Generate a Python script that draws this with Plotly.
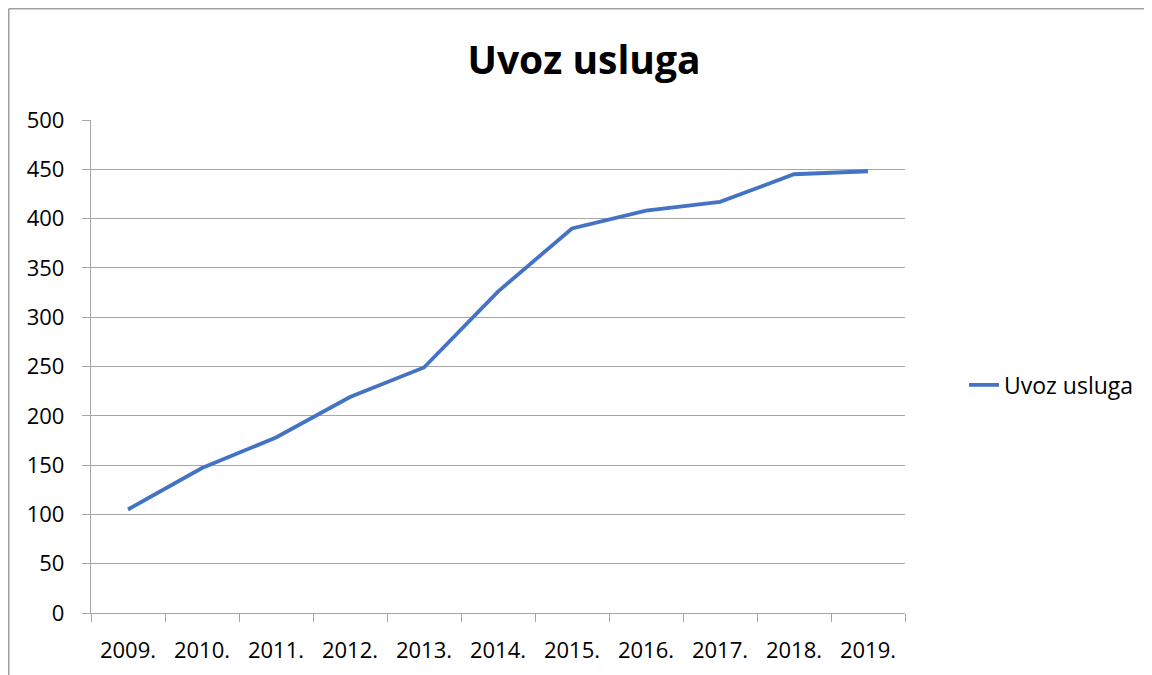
import plotly.graph_objects as go

years = ["2009.", "2010.", "2011.", "2012.", "2013.", "2014.", "2015.", "2016.", "2017.", "2018.", "2019."]
uvoz_usluga = [105, 147, 178, 219, 249, 326, 390, 408, 417, 445, 448]
series_name = "Uvoz usluga"
chart_title = "Uvoz usluga"

FONT = "Open Sans"
GRID = "#A6A6A6"

fig = go.Figure()
fig.add_trace(go.Scatter(
    x=years, y=uvoz_usluga, mode="lines", name=series_name,
    line=dict(color="#4472C4", width=3.8),
))

# page body has an 8px margin, so the figure is 8px smaller and shifted
W, H = 1144, 667
L, R, T, B = 83, 247, 112, 62
pw, ph = W - L - R, H - T - B

def px(x):
    return (x - L) / pw

def py(y):
    return (H - B - y) / ph

fig.update_layout(
    width=W, height=H,
    margin=dict(l=L, r=R, t=T, b=B),
    paper_bgcolor="white", plot_bgcolor="white",
    font=dict(family=FONT, size=21, color="#000000"),
    title=dict(text="<b>" + chart_title + "</b>", x=576 / W, xanchor="center",
               y=1 - 52 / H, yanchor="middle", yref="container",
               font=dict(family=FONT, size=39, color="#000000")),
    showlegend=True,
    legend=dict(x=px(956), xanchor="left", y=py(377), yanchor="middle",
                font=dict(family=FONT, size=23, color="#000000"),
                bgcolor="rgba(0,0,0,0)"),
    xaxis=dict(type="category", range=[-0.5, len(years) - 0.5],
               showgrid=False, showline=True, linecolor=GRID, linewidth=1.3,
               ticks="outside", tickson="boundaries", ticklen=8, tickcolor=GRID,
               tickwidth=1.3, ticklabelstandoff=17,
               tickfont=dict(family=FONT, size=22, color="#000000")),
    yaxis=dict(range=[0, 500], dtick=50, tick0=0,
               showgrid=True, gridcolor=GRID, gridwidth=1.3,
               showline=True, linecolor=GRID, linewidth=1.3,
               ticks="outside", ticklen=8, tickcolor=GRID, tickwidth=1.3,
               ticklabelstandoff=13, zeroline=False,
               tickfont=dict(family=FONT, size=22, color="#000000")),
    shapes=[
        dict(type="line", xref="paper", yref="paper",
             x0=px(0.75), x1=px(W + 5), y0=py(0.75), y1=py(0.75),
             line=dict(color="#A0A0A0", width=1.5)),
        dict(type="line", xref="paper", yref="paper",
             x0=px(0.75), x1=px(0.75), y0=py(0.75), y1=py(H + 5),
             line=dict(color="#A0A0A0", width=1.5)),
    ],
)

fig.write_html("out.html")
